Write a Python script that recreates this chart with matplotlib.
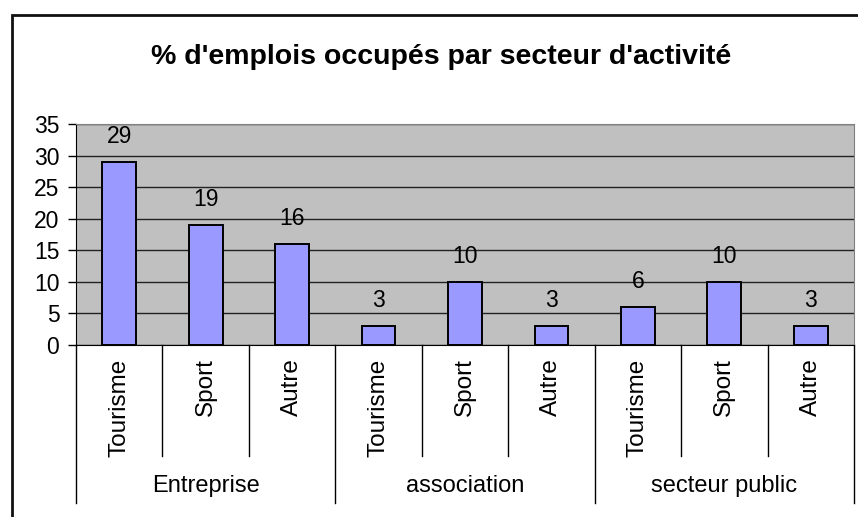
import matplotlib.pyplot as plt
from matplotlib.patches import Rectangle
from matplotlib.transforms import blended_transform_factory

plt.rcParams['font.family'] = ['Liberation Sans', 'DejaVu Sans']

# donnees
groupes = ["Entreprise", "association", "secteur public"]
secteurs = ["Tourisme", "Sport", "Autre"]
valeurs = [29, 19, 16, 3, 10, 3, 6, 10, 3]
titre = "% d'emplois occupés par secteur d'activité"

fig = plt.figure(figsize=(8.58, 5.17), dpi=100)
ax = fig.add_axes([0.0886, 0.3327, 0.9067, 0.4275])

# cadre exterieur
fig.patches.append(Rectangle((0.014, -0.2), 1.2, 1.171, transform=fig.transFigure,
                             fill=False, edgecolor='#111111', linewidth=2))

x = list(range(len(valeurs)))
ax.set_facecolor('#C0C0C0')
ax.bar(x, valeurs, width=0.39, color='#9999FF', edgecolor='black', linewidth=1.4, zorder=3)
for xi, v in zip(x, valeurs):
    ax.annotate(str(v), (xi, v), xytext=(0, 13.5), textcoords='offset points',
                ha='center', va='baseline', fontsize=16.5)

ax.set_xlim(-0.5, len(valeurs) - 0.5)
ax.set_ylim(0, 35)
ax.set_yticks(range(0, 36, 5))
ax.yaxis.grid(True, color='#222222', linewidth=1)
ax.set_axisbelow(True)
ax.tick_params(axis='y', length=6, width=1, labelsize=16.5, pad=6)
ax.set_xticks([])
for s in ['top', 'right']:
    ax.spines[s].set_color('#808080')
ax.spines['left'].set_color('black')
ax.spines['bottom'].set_color('black')

# axe des categories a deux niveaux
tr = blended_transform_factory(ax.transData, ax.transAxes)
for i, xi in enumerate(x):
    ax.text(xi, -0.06, secteurs[i % 3], transform=tr, rotation=90,
            ha='center', va='top', fontsize=17.5)
for k in range(len(valeurs) + 1):
    bas = -0.715 if k % 3 == 0 else -0.502
    ax.plot([k - 0.5, k - 0.5], [0, bas], transform=tr, color='black',
            linewidth=1, clip_on=False)
for g, nom in enumerate(groupes):
    ax.text(3 * g + 1, -0.64, nom, transform=tr, ha='center', va='center', fontsize=17)

fig.text(0.514, 0.889, titre, ha='center', va='center', fontsize=20.5, fontweight='bold')

fig.savefig('out.png', dpi=100)
